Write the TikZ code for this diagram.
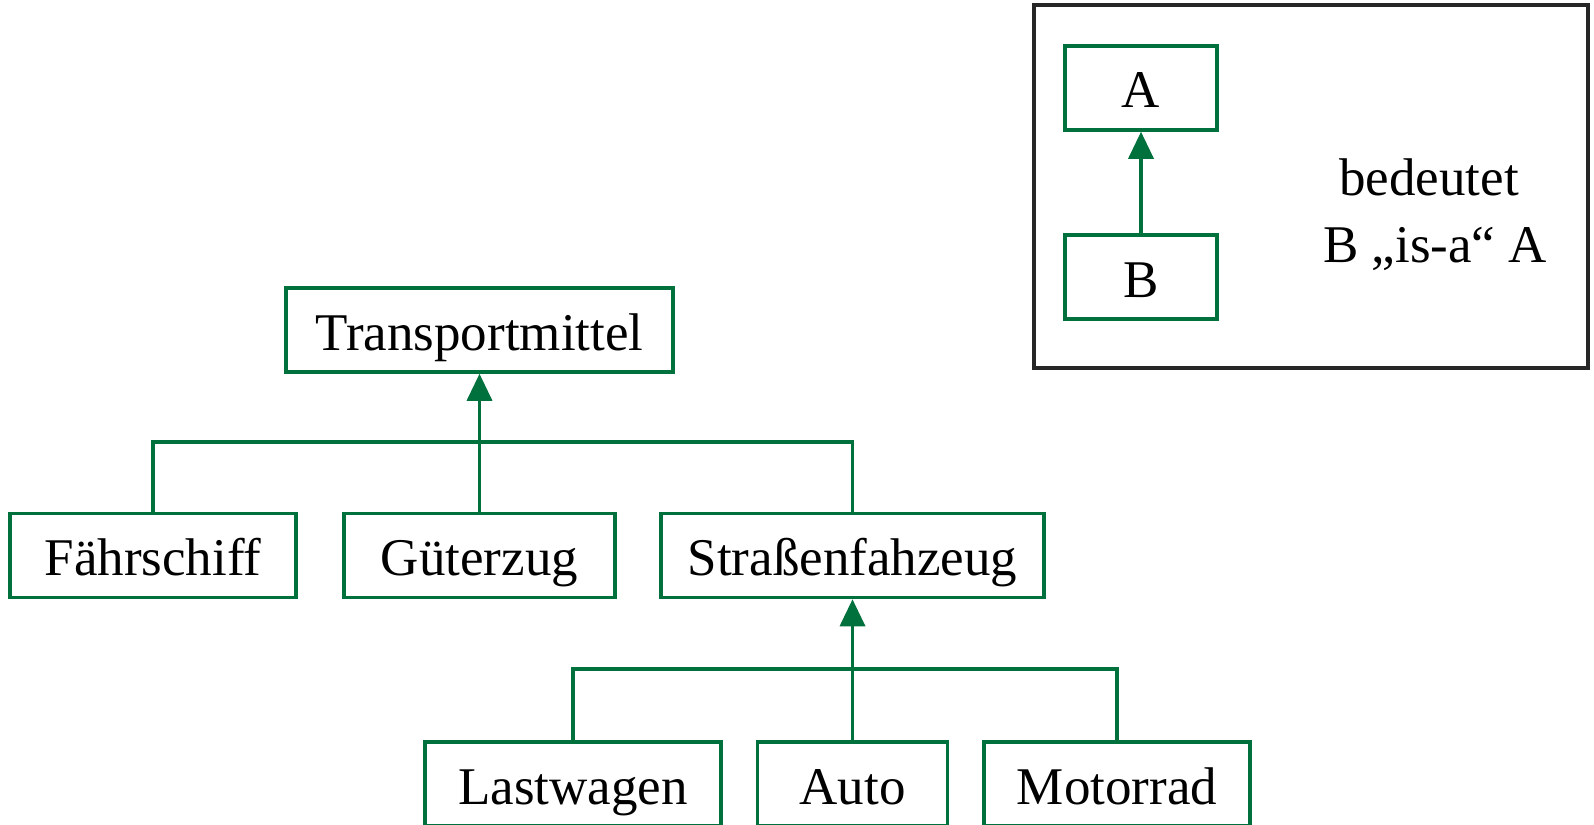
\documentclass[tikz,border=0pt]{standalone}
\usepackage{fontspec}
\setmainfont{Liberation Serif}
\usetikzlibrary{arrows.meta}
\definecolor{umlgreen}{RGB}{0,112,60}
\begin{document}
\begin{tikzpicture}[x=1pt,y=-1pt,
  txt/.style={font=\fontsize{53}{60}\selectfont},
  box/.style={txt, draw=umlgreen, line width=3.5pt, inner sep=0pt, minimum height=84pt, text height=40pt, text depth=0pt},
  link/.style={draw=umlgreen, line width=3.5pt},
  isa/.style={link, -{Triangle[length=27pt,width=25pt]}}]
\useasboundingbox (0,0) rectangle (1594,824);
% hierarchy
\node[box, minimum width=387pt] (T) at (479.5,330) {Transportmittel};
\node[box, minimum width=286pt] (F) at (153,555.5) {Fährschiff};
\node[box, minimum width=271pt] (G) at (479.5,555.5) {Güterzug};
\node[box, minimum width=383pt] (S) at (852.5,555.5) {Straßenfahzeug};
\node[box, minimum width=296pt] (L) at (573,784) {Lastwagen};
\node[box, minimum width=190pt] (Au) at (852.5,784) {Auto};
\node[box, minimum width=266pt] (M) at (1117,784) {Motorrad};
\coordinate (j1) at (479.5,442);
\coordinate (j2) at (852.5,669);
\draw[link] (F.north) |- (S.north |- j1) -- (S.north);
\draw[link] (G.north) -- (j1);
\draw[isa] (j1) -- (T.south);
\draw[link] (L.north) |- (M.north |- j2) -- (M.north);
\draw[link] (Au.north) -- (j2);
\draw[isa] (j2) -- (S.south);
% legend
\node[draw=black!85, line width=4pt, inner sep=0pt, minimum width=554pt, minimum height=363pt] (legend) at (1311,186.5) {};
\node[box, minimum width=152pt] (A) at (1141,88) {A};
\node[box, minimum width=152pt] (B) at (1141,277) {B};
\draw[isa] (B.north) -- (A.south);
\node[txt, anchor=base, inner sep=0pt] (t1) at (1429,195) {bedeutet};
\node[txt, anchor=base, inner sep=0pt] (t2) at (1435,262) {B „is-a“ A};
\end{tikzpicture}
\end{document}
